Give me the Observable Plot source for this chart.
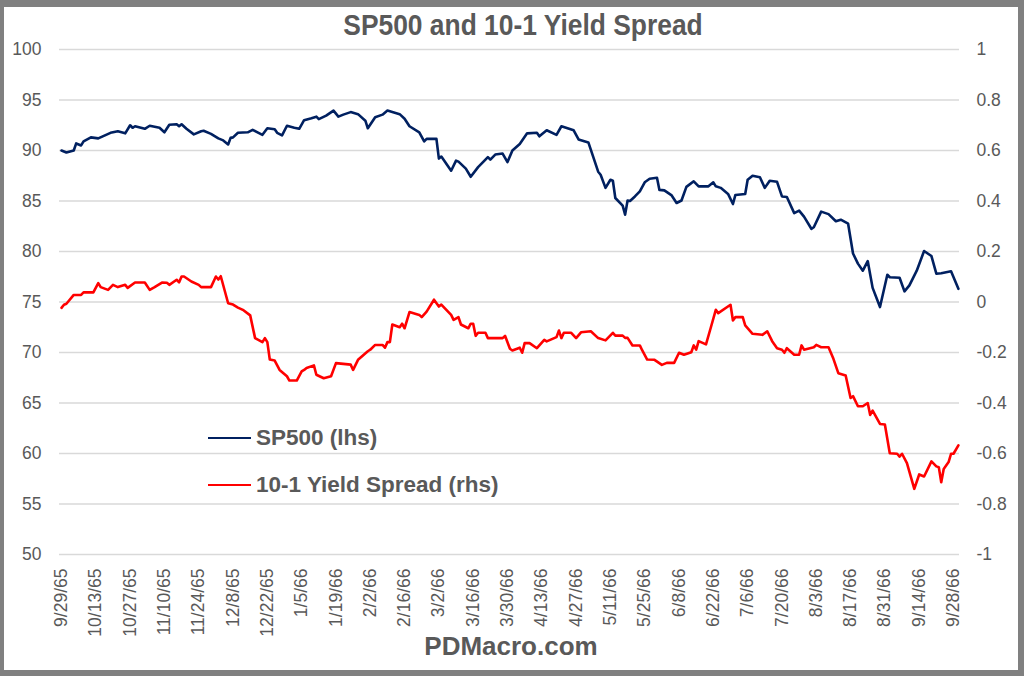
<!DOCTYPE html>
<html>
<head>
<meta charset="utf-8">
<script src="https://cdn.jsdelivr.net/npm/d3@7"></script>
<script src="https://cdn.jsdelivr.net/npm/@observablehq/plot@0.6"></script>
<style>
html, body { margin: 0; padding: 0; width: 1024px; height: 676px; overflow: hidden; background: #808080; }
#box { position: absolute; left: 4px; top: 7px; width: 1014px; height: 663px; background: #ffffff; }
#title { position: absolute; left: 12px; top: 2px; width: 1014px; height: 33px; line-height: 33px; text-align: center;
  font: bold 29px "Liberation Sans", Arial, sans-serif; color: #595959; transform: scaleX(0.91); transform-origin: 507px 50%; }
#chart { position: absolute; left: 0; top: 33px; }
#footer { position: absolute; left: 0; top: 624px; width: 1014px; height: 42px; line-height: 42px; text-align: center;
  font: bold 26px "Liberation Sans", Arial, sans-serif; color: #595959; }
.leg { position: absolute; height: 30px; line-height: 30px; white-space: nowrap;
  font: bold 22.5px "Liberation Sans", Arial, sans-serif; color: #595959; }
.sw { display: inline-block; width: 43px; height: 0; border-top: 2.5px solid; vertical-align: middle; margin-right: 5px; position: relative; top: -1px; }
</style>
</head>
<body>
<div id="box">
  <div id="title">SP500 and 10-1 Yield Spread</div>
  <div id="chart"></div>
  <div class="leg" style="left:204px; top:418px;"><span class="sw" style="border-color:#002060"></span>SP500 (lhs)</div>
  <div class="leg" style="left:204px; top:465px;"><span class="sw" style="border-color:#ff0000"></span>10-1 Yield Spread (rhs)</div>
  <div id="footer">PDMacro.com</div>
</div>
<script>
// ---- Data ----
const spDates = [
"1965-09-29","1965-10-01","1965-10-04","1965-10-05","1965-10-07","1965-10-08","1965-10-11","1965-10-14","1965-10-19","1965-10-22",
"1965-10-25","1965-10-27","1965-10-28","1965-10-29","1965-11-02","1965-11-04","1965-11-08","1965-11-10","1965-11-12","1965-11-15",
"1965-11-16","1965-11-17","1965-11-19","1965-11-22","1965-11-25","1965-11-26","1965-11-29","1965-12-02","1965-12-04","1965-12-06",
"1965-12-07","1965-12-08","1965-12-10","1965-12-14","1965-12-16","1965-12-18","1965-12-20","1965-12-22","1965-12-25","1965-12-26",
"1965-12-28","1965-12-30","1966-01-02","1966-01-04","1966-01-06","1966-01-09","1966-01-11","1966-01-12","1966-01-15","1966-01-18",
"1966-01-20","1966-01-22","1966-01-25","1966-01-28","1966-01-31","1966-02-01","1966-02-04","1966-02-07","1966-02-09","1966-02-14",
"1966-02-16","1966-02-18","1966-02-22","1966-02-24","1966-02-25","1966-03-01","1966-03-02","1966-03-03","1966-03-07","1966-03-09",
"1966-03-10","1966-03-13","1966-03-15","1966-03-18","1966-03-22","1966-03-23","1966-03-25","1966-03-28","1966-03-30","1966-04-01",
"1966-04-04","1966-04-07","1966-04-11","1966-04-12","1966-04-15","1966-04-19","1966-04-21","1966-04-26","1966-04-28","1966-05-02",
"1966-05-06","1966-05-07","1966-05-09","1966-05-11","1966-05-12","1966-05-13","1966-05-16","1966-05-17","1966-05-18","1966-05-19",
"1966-05-21","1966-05-23","1966-05-25","1966-05-27","1966-05-30","1966-05-31","1966-06-02","1966-06-05","1966-06-07","1966-06-09",
"1966-06-11","1966-06-14","1966-06-16","1966-06-20","1966-06-22","1966-06-23","1966-06-25","1966-06-28","1966-06-30","1966-07-01",
"1966-07-05","1966-07-06","1966-07-08","1966-07-11","1966-07-13","1966-07-15","1966-07-18","1966-07-20","1966-07-22","1966-07-25",
"1966-07-27","1966-07-29","1966-08-01","1966-08-02","1966-08-05","1966-08-08","1966-08-11","1966-08-13","1966-08-16","1966-08-18",
"1966-08-20","1966-08-22","1966-08-24","1966-08-26","1966-08-29","1966-09-01","1966-09-02","1966-09-06","1966-09-08","1966-09-10",
"1966-09-13","1966-09-16","1966-09-19","1966-09-21","1966-09-23","1966-09-27","1966-09-30"
];
const spValues = [
90.0,89.8,90.0,90.7,90.5,90.9,91.3,91.2,91.75,91.9,
91.7,92.5,92.25,92.4,92.15,92.45,92.25,91.8,92.55,92.6,
92.4,92.6,92.15,91.6,91.9,91.95,91.65,91.2,91.0,90.6,
91.25,91.3,91.75,91.8,92.05,91.8,91.55,92.2,92.1,91.75,
91.5,92.45,92.25,92.15,93.0,93.2,93.35,93.1,93.45,93.95,
93.35,93.55,93.8,93.6,92.95,92.2,93.3,93.55,93.95,93.6,
93.15,92.4,91.8,90.9,91.15,91.15,89.2,89.4,88.0,89.0,
88.9,88.2,87.4,88.35,89.35,89.1,89.6,89.7,88.85,90.0,
90.65,91.7,91.75,91.4,92.0,91.55,92.4,92.0,91.1,90.8,
87.9,87.6,86.3,87.1,87.0,85.3,84.55,83.65,85.05,85.0,
85.45,85.95,86.85,87.2,87.3,86.1,86.05,85.55,84.8,85.05,
86.4,86.95,86.45,86.45,86.85,86.45,86.3,85.7,84.7,85.6,
85.7,87.1,87.5,87.35,86.3,87.0,86.9,85.45,85.4,83.8,
84.05,83.45,82.25,82.4,83.95,83.7,83.0,83.15,82.75,79.8,
78.8,78.1,79.05,76.4,74.5,77.7,77.45,77.4,76.05,76.65,
78.1,80.05,79.55,77.8,77.85,78.05,76.3
];
const spreadDates = [
"1965-09-29","1965-09-30","1965-10-01","1965-10-04","1965-10-07","1965-10-08","1965-10-12","1965-10-14","1965-10-15","1965-10-18",
"1965-10-20","1965-10-22","1965-10-25","1965-10-26","1965-10-29","1965-11-02","1965-11-04","1965-11-06","1965-11-09","1965-11-11",
"1965-11-12","1965-11-15","1965-11-16","1965-11-17","1965-11-18","1965-11-21","1965-11-24","1965-11-25","1965-11-29","1965-12-01",
"1965-12-02","1965-12-03","1965-12-06","1965-12-08","1965-12-10","1965-12-12","1965-12-15","1965-12-17","1965-12-20","1965-12-21",
"1965-12-22","1965-12-23","1965-12-25","1965-12-27","1965-12-30","1965-12-31","1966-01-03","1966-01-05","1966-01-06","1966-01-07",
"1966-01-10","1966-01-11","1966-01-14","1966-01-17","1966-01-19","1966-01-25","1966-01-26","1966-01-28","1966-02-01","1966-02-02",
"1966-02-04","1966-02-07","1966-02-08","1966-02-09","1966-02-10","1966-02-11","1966-02-14","1966-02-15","1966-02-16","1966-02-18",
"1966-02-22","1966-02-23","1966-02-25","1966-02-28","1966-03-02","1966-03-03","1966-03-07","1966-03-08","1966-03-10","1966-03-11",
"1966-03-14","1966-03-15","1966-03-16","1966-03-17","1966-03-18","1966-03-21","1966-03-22","1966-03-28","1966-03-29","1966-03-31",
"1966-04-01","1966-04-04","1966-04-05","1966-04-06","1966-04-08","1966-04-11","1966-04-14","1966-04-15","1966-04-19","1966-04-20",
"1966-04-21","1966-04-22","1966-04-25","1966-04-27","1966-04-29","1966-05-03","1966-05-06","1966-05-09","1966-05-12","1966-05-13",
"1966-05-16","1966-05-17","1966-05-18","1966-05-20","1966-05-23","1966-05-24","1966-05-26","1966-05-29","1966-06-01","1966-06-03",
"1966-06-06","1966-06-08","1966-06-10","1966-06-13","1966-06-14","1966-06-15","1966-06-16","1966-06-19","1966-06-21","1966-06-23",
"1966-06-24","1966-06-29","1966-06-30","1966-07-01","1966-07-04","1966-07-05","1966-07-08","1966-07-12","1966-07-14","1966-07-16",
"1966-07-18","1966-07-20","1966-07-21","1966-07-22","1966-07-25","1966-07-27","1966-07-28","1966-07-29","1966-08-02","1966-08-03",
"1966-08-05","1966-08-08","1966-08-10","1966-08-12","1966-08-15","1966-08-17","1966-08-18","1966-08-20","1966-08-22","1966-08-24",
"1966-08-25","1966-08-26","1966-08-29","1966-08-31","1966-09-02","1966-09-05","1966-09-06","1966-09-07","1966-09-09","1966-09-12",
"1966-09-14","1966-09-16","1966-09-19","1966-09-21","1966-09-22","1966-09-23","1966-09-24","1966-09-26","1966-09-27","1966-09-28",
"1966-09-30"
];
const spreadValues = [
-0.023,-0.011,-0.007,0.028,0.028,0.038,0.038,0.075,0.059,0.048,
0.068,0.059,0.068,0.056,0.077,0.077,0.048,0.059,0.077,0.076,
0.068,0.088,0.078,0.101,0.101,0.081,0.068,0.059,0.059,0.101,
0.089,0.102,-0.005,-0.010,-0.022,-0.031,-0.053,-0.143,-0.159,-0.143,
-0.159,-0.228,-0.232,-0.269,-0.294,-0.311,-0.311,-0.275,-0.269,-0.261,
-0.251,-0.288,-0.302,-0.294,-0.242,-0.248,-0.269,-0.229,-0.195,-0.189,
-0.170,-0.170,-0.181,-0.159,-0.159,-0.089,-0.100,-0.086,-0.104,-0.040,
-0.051,-0.060,-0.038,0.009,-0.018,-0.010,-0.051,-0.071,-0.060,-0.089,
-0.104,-0.086,-0.086,-0.134,-0.122,-0.122,-0.143,-0.143,-0.134,-0.185,
-0.192,-0.181,-0.201,-0.163,-0.163,-0.183,-0.150,-0.156,-0.139,-0.113,
-0.143,-0.122,-0.122,-0.143,-0.120,-0.116,-0.143,-0.152,-0.122,-0.133,
-0.133,-0.142,-0.142,-0.172,-0.172,-0.192,-0.228,-0.229,-0.249,-0.241,
-0.241,-0.201,-0.209,-0.199,-0.172,-0.189,-0.155,-0.168,-0.100,-0.031,
-0.044,-0.011,-0.073,-0.060,-0.060,-0.093,-0.126,-0.130,-0.116,-0.155,
-0.183,-0.189,-0.201,-0.183,-0.209,-0.209,-0.172,-0.189,-0.179,-0.170,
-0.179,-0.179,-0.225,-0.282,-0.291,-0.380,-0.373,-0.413,-0.413,-0.400,
-0.447,-0.430,-0.483,-0.485,-0.599,-0.601,-0.612,-0.601,-0.638,-0.740,
-0.683,-0.691,-0.631,-0.651,-0.654,-0.714,-0.661,-0.634,-0.601,-0.601,
-0.568
];
// Axis ticks
const leftTicks = [50, 55, 60, 65, 70, 75, 80, 85, 90, 95, 100];
const rightTicks = [-1, -0.8, -0.6, -0.4, -0.2, 0, 0.2, 0.4, 0.6, 0.8, 1];
const xTickLabels = ["9/29/65","10/13/65","10/27/65","11/10/65","11/24/65","12/8/65","12/22/65","1/5/66","1/19/66","2/2/66",
  "2/16/66","3/2/66","3/16/66","3/30/66","4/13/66","4/27/66","5/11/66","5/25/66","6/8/66","6/22/66","7/6/66","7/20/66",
  "8/3/66","8/17/66","8/31/66","9/14/66","9/28/66"];

// ---- Build ----
const parse = d3.utcParse("%Y-%m-%d");
const parseTick = s => { const [m, d, y] = s.split("/").map(Number); return new Date(Date.UTC(1900 + y, m - 1, d)); };
const xTicks = xTickLabels.map(parseTick);
const spData = spDates.map((d, i) => ({date: parse(d), value: spValues[i]}));
const spreadData = spreadDates.map((d, i) => ({date: parse(d), value: spreadValues[i]}));
// secondary (right) axis [-1, 1] shares the frame with the left axis [50, 100]
const toLeft = v => 75 + 25 * v;
const fromLeft = v => (v - 75) / 25;
const fmtTick = d => xTickLabels[xTicks.findIndex(t => +t === +d)];

const chart = Plot.plot({
  width: 1014,
  height: 588,
  marginTop: 9,
  marginBottom: 74,
  marginLeft: 57,
  marginRight: 65,
  style: {fontFamily: '"Liberation Sans", Arial, sans-serif', fontSize: "17.5px", color: "#595959", background: "transparent", overflow: "visible"},
  x: {type: "utc", domain: [xTicks[0], xTicks[xTicks.length - 1]]},
  y: {domain: [50, 100]},
  marks: [
    Plot.ruleY(leftTicks, {stroke: "#d9d9d9", strokeWidth: 1.3, insetLeft: -2, insetRight: -6}),
    Plot.axisY(leftTicks, {anchor: "left", tickSize: 0, tickPadding: 20, label: null}),
    Plot.axisY(rightTicks.map(toLeft), {anchor: "right", tickSize: 0, tickPadding: 23, label: null,
      tickFormat: d => String(+fromLeft(d).toFixed(1))}),
    Plot.axisX(xTicks, {anchor: "bottom", tickSize: 0, tickPadding: 14, tickRotate: -90, label: null, tickFormat: fmtTick}),
    Plot.line(spData, {x: "date", y: "value", stroke: "#002060", strokeWidth: 2.6, strokeLinejoin: "round"}),
    Plot.line(spreadData, {x: "date", y: d => toLeft(d.value), stroke: "#ff0000", strokeWidth: 2.6, strokeLinejoin: "round"})
  ]
});
document.getElementById("chart").appendChild(chart);
</script>
</body>
</html>
